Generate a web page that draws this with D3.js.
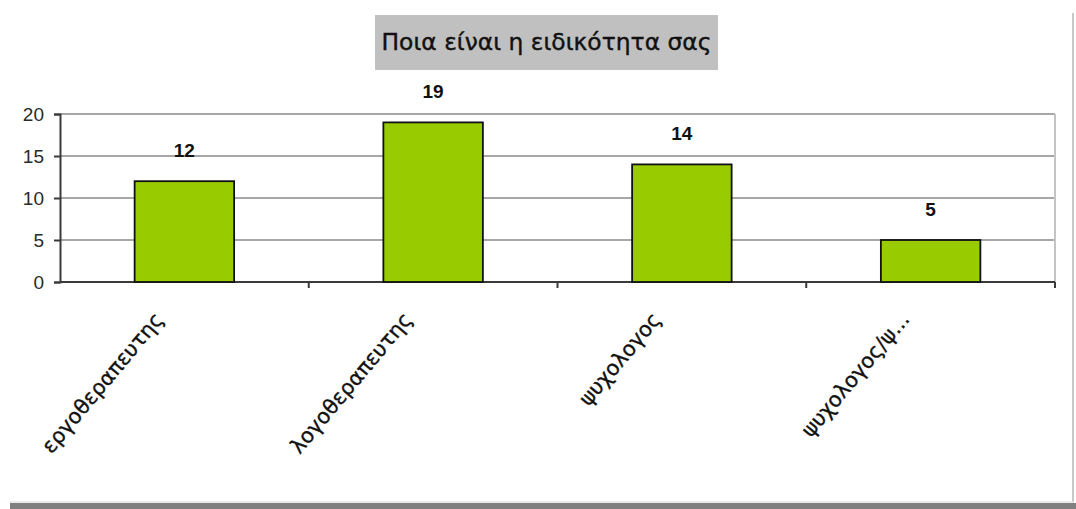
<!DOCTYPE html>
<html>
<head>
<meta charset="utf-8">
<script src="https://cdn.jsdelivr.net/npm/d3@7"></script>
<style>
  html, body { margin: 0; padding: 0; background: #fff; }
  svg { display: block; }
</style>
</head>
<body>
<svg id="chart" width="1076" height="509"></svg>
<script>
// Chart data
const title = "Ποια είναι η ειδικότητα σας";
const categories = ["εργοθεραπευτης", "λογοθεραπευτης", "ψυχολογος", "ψυχολογος/ψ..."];
const counts = [12, 19, 14, 5];
const yTicks = [0, 5, 10, 15, 20];

const svg = d3.select("#chart");
const W = 1076, H = 509;
const plot = { left: 60, right: 1055, top: 114, bottom: 282 };

// Outer frame: light right edge and dark bottom shadow
svg.append("line")
  .attr("x1", 1073).attr("x2", 1073).attr("y1", 13).attr("y2", 503)
  .attr("stroke", "#c8c8c8").attr("stroke-width", 2);
svg.append("line")
  .attr("x1", 10).attr("x2", 1074).attr("y1", 502).attr("y2", 502)
  .attr("stroke", "#e4e4e4").attr("stroke-width", 1.5);
svg.append("rect")
  .attr("x", 10).attr("y", 503).attr("width", W - 10).attr("height", 6)
  .attr("fill", "#808080");

// Title box
const titleG = svg.append("g");
titleG.append("rect")
  .attr("x", 375).attr("y", 15).attr("width", 343).attr("height", 55)
  .attr("fill", "#c0c0c0");
titleG.append("text")
  .attr("x", 546.5).attr("y", 50)
  .attr("text-anchor", "middle")
  .attr("font-family", "'DejaVu Sans', sans-serif")
  .attr("font-size", 23)
  .attr("textLength", 330)
  .attr("lengthAdjust", "spacingAndGlyphs")
  .attr("fill", "#111")
  .attr("stroke", "#111")
  .attr("stroke-width", 0.4)
  .text(title);

// Scales
const x = d3.scaleBand()
  .domain(categories)
  .range([plot.left, plot.right])
  .paddingInner(0.6)
  .paddingOuter(0.3);
const band = (plot.right - plot.left) / categories.length;

const y = d3.scaleLinear()
  .domain([0, 20])
  .range([plot.bottom, plot.top]);

// Gridlines
svg.append("g")
  .selectAll("line")
  .data(yTicks.filter(d => d > 0))
  .join("line")
  .attr("x1", plot.left).attr("x2", plot.right)
  .attr("y1", d => y(d)).attr("y2", d => y(d))
  .attr("stroke", "#8a8a8a").attr("stroke-width", 1.6);

// Plot area right border
svg.append("line")
  .attr("x1", plot.right).attr("x2", plot.right)
  .attr("y1", plot.top).attr("y2", plot.bottom + 6)
  .attr("stroke", "#c4c4c4").attr("stroke-width", 2);

// Y axis
const yAxis = d3.axisLeft(y).tickValues(yTicks).tickSize(6).tickPadding(10);
const yG = svg.append("g")
  .attr("transform", `translate(${plot.left},0)`)
  .call(yAxis);
yG.select(".domain").attr("stroke", "#3a3a3a").attr("stroke-width", 2);
yG.selectAll(".tick line").attr("stroke", "#3a3a3a").attr("stroke-width", 2);
yG.selectAll(".tick text")
  .attr("font-family", "'Liberation Sans', Arial, sans-serif")
  .attr("font-size", 19)
  .attr("fill", "#2a2a2a");

// X axis baseline with category separators
svg.append("line")
  .attr("x1", plot.left).attr("x2", plot.right)
  .attr("y1", plot.bottom).attr("y2", plot.bottom)
  .attr("stroke", "#3a3a3a").attr("stroke-width", 2);
svg.append("g")
  .selectAll("line")
  .data(d3.range(1, categories.length + 1))
  .join("line")
  .attr("x1", i => plot.left + i * band).attr("x2", i => plot.left + i * band)
  .attr("y1", plot.bottom).attr("y2", plot.bottom + 6)
  .attr("stroke", "#3a3a3a").attr("stroke-width", 2);

// Bars
svg.append("g")
  .selectAll("rect")
  .data(categories)
  .join("rect")
  .attr("x", d => x(d))
  .attr("y", (d, i) => y(counts[i]))
  .attr("width", x.bandwidth())
  .attr("height", (d, i) => y(0) - y(counts[i]))
  .attr("fill", "#99cc00")
  .attr("stroke", "#111")
  .attr("stroke-width", 1.8);

// Value labels
svg.append("g")
  .selectAll("text")
  .data(categories)
  .join("text")
  .attr("x", d => x(d) + x.bandwidth() / 2)
  .attr("y", (d, i) => y(counts[i]) - 24)
  .attr("text-anchor", "middle")
  .attr("font-family", "'Liberation Sans', Arial, sans-serif")
  .attr("font-weight", "bold")
  .attr("font-size", 19)
  .attr("fill", "#111")
  .text((d, i) => counts[i]);

// Rotated category labels
svg.append("g")
  .selectAll("text")
  .data(categories)
  .join("text")
  .attr("transform", d => `translate(${x(d) + x.bandwidth() / 2 - 20},${plot.bottom + 38}) rotate(-50)`)
  .attr("text-anchor", "end")
  .attr("font-family", "'DejaVu Sans', sans-serif")
  .attr("font-size", 21)
  .attr("fill", "#111")
  .attr("stroke", "#111")
  .attr("stroke-width", 0.35)
  .text(d => d);
</script>
</body>
</html>
